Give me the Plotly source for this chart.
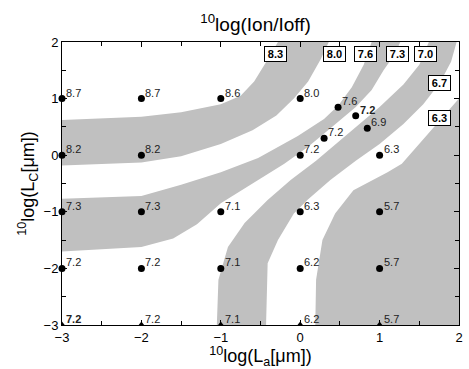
import plotly.graph_objects as go

# ---- contour lines (band boundaries) ----
c83_x = [-3, -2, -1.5, -1, -0.75, -0.58, -0.45, -0.35, -0.28]
c83_y = [0.62, 0.68, 0.76, 0.9, 1.05, 1.3, 1.6, 1.85, 2.0]
c80_x = [-3, -2, -1.5, -1, -0.6, -0.3, -0.08, 0.1, 0.26, 0.36]
c80_y = [-0.18, -0.13, -0.02, 0.2, 0.44, 0.7, 1.0, 1.3, 1.7, 2.0]
c76_x = [-3, -2, -1.5, -1, -0.53, -0.03, 0.3, 0.48, 0.65, 0.8, 0.9]
c76_y = [-0.77, -0.72, -0.52, -0.3, -0.05, 0.34, 0.64, 0.88, 1.2, 1.6, 2.0]
c73_x = [-3, -2, -1.6, -1.3, -1, -0.53, -0.2, 0.1, 0.4, 0.7, 0.9, 1.05, 1.2, 1.26]
c73_y = [-1.7, -1.62, -1.47, -1.22, -0.85, -0.44, -0.15, 0.15, 0.5, 0.85, 1.15, 1.5, 1.8, 2.0]
c70_x = [-1.05, -1.03, -0.91, -0.7, -0.41, -0.12, 0.2, 0.5, 0.75, 1.0, 1.3, 1.5, 1.62]
c70_y = [-3, -2.2, -1.62, -1.2, -0.79, -0.44, -0.1, 0.25, 0.55, 0.85, 1.25, 1.6, 2.0]
c67_x = [-0.43, -0.41, -0.28, -0.08, 0.09, 0.38, 0.7, 1.0, 1.3, 1.55, 1.76, 1.9, 1.97]
c67_y = [-3, -1.91, -1.5, -1.03, -0.79, -0.44, -0.1, 0.2, 0.55, 0.9, 1.28, 1.65, 2.0]
c63_x = [0.19, 0.2, 0.28, 0.44, 0.67, 0.9, 1.1, 1.28, 1.5, 1.76, 2.0]
c63_y = [-3, -2.2, -1.5, -1.03, -0.62, -0.45, -0.3, -0.15, 0.2, 0.62, 1.0]

# contour level labels
lvl_text = ["8.3", "8.0", "7.6", "7.3", "7.0", "6.7", "6.3"]
lvl_x = [-0.31, 0.43, 0.82, 1.23, 1.58, 1.76, 1.76]
lvl_y = [1.78, 1.78, 1.78, 1.78, 1.78, 1.28, 0.66]

# ---- measured points ----
pt_x = [-3, -2, -1, 0, 0.477, 0.699, 0.301, 0.845, -3, -2, 0, 1,
        -3, -2, -1, 0, 1, -3, -2, -1, 0, 1]
pt_y = [1, 1, 1, 1, 0.845, 0.699, 0.301, 0.477, 0, 0, 0, 0,
        -1, -1, -1, -1, -1, -2, -2, -2, -2, -2]
pt_val = ["8.7", "8.7", "8.6", "8.0", "7.6", "7.2", "7.2", "6.9", "8.2", "8.2", "7.2", "6.3",
          "7.3", "7.3", "7.1", "6.3", "5.7", "7.2", "7.2", "7.1", "6.2", "5.7"]
pt_bold = [0, 0, 0, 0, 0, 1, 0, 0, 0, 0, 0, 0, 0, 0, 0, 0, 0, 0, 0, 0, 0, 0]
bot_x = [-3, -2, -1, 0, 1]
bot_y = [-3, -3, -3, -3, -3]
bot_val = ["7.2", "7.2", "7.1", "6.2", "5.7"]
bot_bold = [1, 0, 0, 0, 0]

x_range = [-3, 2]
y_range = [-3, 2]
ticks = [-3, -2, -1, 0, 1, 2]

GRAY = "#c0c0c0"
FONT = "Arial, Liberation Sans, sans-serif"

fig = go.Figure()


def band(xs, ys):
    fig.add_trace(go.Scatter(x=xs, y=ys, mode="lines", fill="toself",
                             fillcolor=GRAY, line=dict(width=0, color=GRAY),
                             hoverinfo="skip", showlegend=False))


band(c83_x + c80_x[::-1], c83_y + c80_y[::-1])
band(c76_x + c73_x[::-1], c76_y + c73_y[::-1])
band(c70_x + c67_x[::-1], c70_y + c67_y[::-1])
band(c63_x + [x_range[1]], c63_y + [y_range[0]])

fig.add_trace(go.Scatter(x=pt_x, y=pt_y, mode="markers",
                         marker=dict(color="black", size=7),
                         cliponaxis=False, showlegend=False))
fig.add_trace(go.Scatter(x=bot_x, y=bot_y, mode="markers",
                         marker=dict(color="black", size=7, symbol="triangle-up"),
                         cliponaxis=True, showlegend=False))

annots = []
for xs, ys, vs, bs in [(pt_x, pt_y, pt_val, pt_bold), (bot_x, bot_y, bot_val, bot_bold)]:
    for x, y, v, b in zip(xs, ys, vs, bs):
        annots.append(dict(x=x, y=y, text=f"<b>{v}</b>" if b else v, showarrow=False,
                           xanchor="left", yanchor="middle", xshift=2, yshift=6,
                           font=dict(size=11, color="#222", family=FONT)))
for t, x, y in zip(lvl_text, lvl_x, lvl_y):
    annots.append(dict(x=x, y=y, text=f"<b>{t}</b>", showarrow=False,
                       xanchor="center", yanchor="middle",
                       bgcolor="white", bordercolor="black", borderwidth=1, borderpad=1,
                       width=19, height=12,
                       font=dict(size=11, color="black", family=FONT)))

axis_common = dict(showgrid=False, zeroline=False, showline=True, linecolor="black",
                   linewidth=1, mirror="ticks", ticks="inside", ticklen=5,
                   tickcolor="black", tickvals=ticks,
                   minor=dict(dtick=0.5, ticks="inside", ticklen=4, tickcolor="black"),
                   tickfont=dict(size=13, color="black", family=FONT))

fig.update_layout(
    width=469, height=369,
    margin=dict(l=62, r=6, t=42, b=44),
    plot_bgcolor="white", paper_bgcolor="white",
    font=dict(family=FONT, color="black"),
    title=dict(text="<sup>10</sup>log(Ion/Ioff)", x=0.545, xref="container",
               xanchor="center", y=1 - 24 / 369, yref="container", yanchor="middle",
               font=dict(size=19, color="black", family=FONT)),
    xaxis=dict(range=x_range, title=dict(text="<sup>10</sup>log(L<sub>a</sub>[\u03bcm])",
                                         font=dict(size=18), standoff=2), **axis_common),
    yaxis=dict(range=y_range, title=dict(text="<sup>10</sup>log(L<sub>C</sub>[\u03bcm])",
                                         font=dict(size=18), standoff=4), **axis_common),
    annotations=annots,
)

fig.write_html("out.html")
